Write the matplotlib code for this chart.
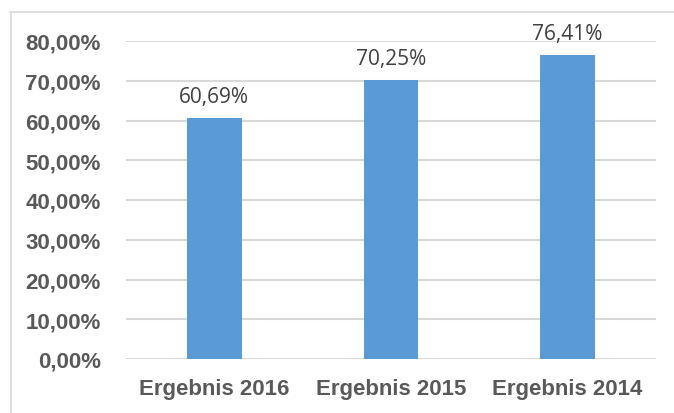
import matplotlib
matplotlib.use("Agg")
import matplotlib.pyplot as plt
from matplotlib.patches import Rectangle
from matplotlib import font_manager

categories = ["Ergebnis 2016", "Ergebnis 2015", "Ergebnis 2014"]
values = [60.69, 70.25, 76.41]
value_labels = ["60,69%", "70,25%", "76,41%"]
yticks = [0, 10, 20, 30, 40, 50, 60, 70, 80]
ytick_labels = ["0,00%", "10,00%", "20,00%", "30,00%", "40,00%", "50,00%", "60,00%", "70,00%", "80,00%"]

names = {f.name for f in font_manager.fontManager.ttflist}
tick_family = ["Liberation Sans Narrow"] if "Liberation Sans Narrow" in names else ["Liberation Sans"]
tick_family += ["DejaVu Sans"]
label_family = ["Open Sans", "DejaVu Sans"]

fig = plt.figure(figsize=(6.74, 4.14), dpi=100)
W, H = 674, 414
ax = fig.add_axes([126 / W, 1 - 360 / H, (656 - 126) / W, (360 - 42) / H])

x = list(range(len(categories)))
bars = ax.bar(x, values, width=0.31, color="#5B9BD5", zorder=3)
ax.set_xlim(-0.5, len(categories) - 0.5)
ax.set_ylim(0, 80)
ax.set_yticks(yticks)
ax.set_yticklabels(ytick_labels)
ax.set_xticks(x)
ax.set_xticklabels(categories)
ax.grid(axis="y", color="#D9D9D9", linewidth=1.5, zorder=0)
for s in ax.spines.values():
    s.set_visible(False)
ax.tick_params(length=0)
ax.tick_params(axis="y", pad=18)
ax.tick_params(axis="x", pad=14)
for t in ax.get_yticklabels() + ax.get_xticklabels():
    t.set_fontfamily(tick_family)
    t.set_fontweight("bold")
    t.set_fontsize(16)
    t.set_color("#595959")

for xi, v, lab in zip(x, values, value_labels):
    ax.annotate(lab, (xi, v), xytext=(0, 8), textcoords="offset points",
                ha="center", va="bottom", fontsize=15, color="#404040",
                family=label_family, annotation_clip=False)

# chart border (top and left visible)
fig.add_artist(plt.Line2D([10 / W, 1.0], [1 - 12.5 / H, 1 - 12.5 / H], color="#D9D9D9", lw=1.2))
fig.add_artist(plt.Line2D([10.5 / W, 10.5 / W], [0, 1 - 12.5 / H], color="#D9D9D9", lw=1.2))

fig.savefig("out.png", dpi=100)
